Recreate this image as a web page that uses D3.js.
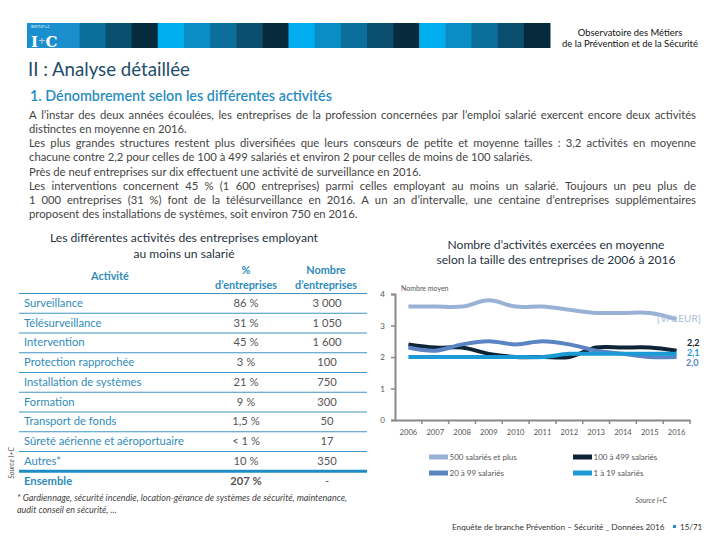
<!DOCTYPE html>
<html><head><meta charset="utf-8">
<script src="https://cdn.jsdelivr.net/npm/d3@7"></script>
<style>
body{margin:0;background:#fff;}
svg{display:block;font-family:Lato,"Open Sans",sans-serif;}
</style>
</head><body>
<svg id="c" width="720" height="540"></svg>
<script>
// ---------- DATA ----------
const years = [2006,2007,2008,2009,2010,2011,2012,2013,2014,2015,2016];
const seriesNames = ["500 salariés et plus","100 à 499 salariés","20 à 99 salariés","1 à 19 salariés"];
const s500 = [3.6,3.6,3.6,3.8,3.6,3.6,3.5,3.4,3.4,3.4,3.2];
const s100 = [2.4,2.3,2.3,2.1,2.0,2.0,2.0,2.3,2.3,2.3,2.2];
const s20  = [2.3,2.2,2.4,2.5,2.4,2.5,2.4,2.2,2.1,2.0,2.0];
const s1   = [2.0,2.0,2.0,2.0,2.0,2.0,2.1,2.1,2.1,2.1,2.1];
const endLabels = ["[VALEUR]","2,2","2,0","2,1"];
const yTicks = [0,1,2,3,4];

const activities = ["Surveillance","Télésurveillance","Intervention","Protection rapprochée","Installation de systèmes","Formation","Transport de fonds","Sûreté aérienne et aéroportuaire","Autres*"];
const pctLabels = ["86 %","31 %","45 %","3 %","21 %","9 %","1,5 %","< 1 %","10 %"];
const countLabels = ["3 000","1 050","1 600","100","750","300","50","17","350"];
const totalRow = ["Ensemble","207 %","-"];

const paragraphLines = [
 "A l’instar des deux années écoulées, les entreprises de la profession concernées par l’emploi salarié exercent encore deux activités",
 "distinctes en moyenne en 2016.",
 "Les plus grandes structures restent plus diversifiées que leurs consœurs de petite et moyenne tailles : 3,2 activités en moyenne",
 "chacune contre 2,2 pour celles de 100 à 499 salariés et environ 2 pour celles de moins de 100 salariés.",
 "Près de neuf entreprises sur dix effectuent une activité de surveillance en 2016.",
 "Les interventions concernent 45 % (1 600 entreprises) parmi celles employant au moins un salarié. Toujours un peu plus de",
 "1 000 entreprises (31 %) font de la télésurveillance en 2016. A un an d’intervalle, une centaine d’entreprises supplémentaires",
 "proposent des installations de systèmes, soit environ 750 en 2016."
];
const justifyFlags = [true,false,true,false,false,true,true,false];

// ---------- HELPERS ----------
const svg = d3.select("#c");
function fit(sel, w){
  const l = sel.node().getComputedTextLength();
  const fs = parseFloat(sel.attr("font-size"));
  sel.attr("font-size", (fs*w/l).toFixed(2));
  return fs*w/l;
}

// ---------- HEADER ----------
const barColors = ["#00aeef","#0a8cc5","#0b6e9b","#0b4f70","#062b3d"];
const segs = d3.range(20);
const segX = d3.scaleBand().domain(segs).range([27,550]);
svg.append("g").selectAll("rect").data(segs).join("rect")
  .attr("x", d=>segX(d)).attr("y",23).attr("width", segX.bandwidth()+0.5).attr("height",25)
  .attr("fill", d=>barColors[d%5]);
svg.append("rect").attr("x",27).attr("y",23).attr("width",segX.bandwidth()*2).attr("height",25).attr("fill","#1a8fcd");
const logo = svg.append("text").attr("x",31).attr("y",46.5).attr("font-family","'DejaVu Serif',serif")
  .attr("font-size",15).attr("font-weight","bold").attr("fill","#fff");
logo.append("tspan").text("I");
logo.append("tspan").attr("fill","#b9c8d4").attr("font-size",9).attr("dy",-3).text("+");
logo.append("tspan").attr("dy",3).text("C");
svg.append("text").attr("x",31).attr("y",28).attr("font-size",3).attr("fill","#fff").text("INSTITUT I+C");

const hdr1 = svg.append("text").attr("x",630).attr("y",36).attr("text-anchor","middle").attr("font-size",9).attr("fill","#111").text("Observatoire des Métiers");
const hdr2 = svg.append("text").attr("x",630).attr("y",47).attr("text-anchor","middle").attr("font-size",9).attr("fill","#111").text("de la Prévention et de la Sécurité");
const hs = fit(hdr2,136); hdr1.attr("font-size",hs);

// ---------- HEADINGS ----------
const h1 = svg.append("text").attr("x",28).attr("y",76).attr("font-size",17).attr("fill","#1d4d6b").text("II : Analyse détaillée");
fit(h1,162);
const h2 = svg.append("text").attr("x",30).attr("y",101).attr("font-size",13).attr("fill","#2a8dbf").attr("font-weight","600").text("1. Dénombrement selon les différentes activités");
fit(h2,302);

// ---------- PARAGRAPH ----------
const pg = svg.append("g").attr("fill","#444");
const probe = pg.append("text").attr("font-size",10).text(paragraphLines[3]);
const pfs = 10*504/probe.node().getComputedTextLength();
probe.remove();
const px0 = 29, px1 = 696;
paragraphLines.forEach((line,i)=>{
  const y = 118.5 + i*14.25;
  if(!justifyFlags[i]){
    pg.append("text").attr("x",px0).attr("y",y).attr("font-size",pfs).text(line);
  } else {
    const words = line.split(" ");
    const ts = words.map(w=>pg.append("text").attr("y",y).attr("font-size",pfs).text(w));
    const widths = ts.map(t=>t.node().getComputedTextLength());
    const gap = (px1-px0-d3.sum(widths))/(words.length-1);
    let x = px0;
    ts.forEach((t,k)=>{ t.attr("x",x); x += widths[k]+gap; });
  }
});

// ---------- TABLE ----------
const tg = svg.append("g");
const tt1 = tg.append("text").attr("x",184).attr("y",242).attr("text-anchor","middle").attr("font-size",11.5).attr("fill","#1f3340").text("Les différentes activités des entreprises employant");
const tfs = fit(tt1,268);
tg.append("text").attr("x",184).attr("y",258).attr("text-anchor","middle").attr("font-size",tfs).attr("fill","#1f3340").text("au moins un salarié");

const teal = "#2f8bb9";
const hcol = tg.append("g").attr("font-weight","bold").attr("fill",teal).attr("text-anchor","middle");
const de1 = hcol.append("text").attr("x",246).attr("y",289).attr("font-size",10).text("d’entreprises");
const hfs = fit(de1,62);
hcol.append("text").attr("x",110).attr("y",280).attr("font-size",hfs).text("Activité");
hcol.append("text").attr("x",246).attr("y",273.5).attr("font-size",hfs).text("%");
hcol.append("text").attr("x",326).attr("y",273.5).attr("font-size",hfs).text("Nombre");
hcol.append("text").attr("x",326).attr("y",289).attr("font-size",hfs).text("d’entreprises");

const rowsAll = activities.concat([totalRow[0]]);
const ry = d3.scaleBand().domain(rowsAll).range([293.5,491]);
const rules = activities.map(a=>ry(a));
tg.append("g").selectAll("line").data(rules).join("line")
  .attr("x1",19).attr("x2",367).attr("y1",d=>d).attr("y2",d=>d)
  .attr("stroke","#3f93c0").attr("stroke-width",1.2);
tg.append("line").attr("x1",19).attr("x2",367).attr("y1",ry(totalRow[0])).attr("y2",ry(totalRow[0]))
  .attr("stroke","#1e8cc6").attr("stroke-width",3);

const rprobe = tg.append("text").attr("font-size",10).text(activities[7]);
const rowFs = 10*160/rprobe.node().getComputedTextLength();
rprobe.remove();
const rg = tg.append("g").selectAll("g").data(activities).join("g")
  .attr("transform",d=>`translate(0,${ry(d)+ry.bandwidth()/2+3.5})`);
rg.append("text").attr("x",24).attr("font-size",rowFs).attr("fill",teal).text(d=>d);
rg.append("text").attr("x",246).attr("text-anchor","middle").attr("font-size",rowFs).attr("fill","#555").text((d,i)=>pctLabels[i]);
rg.append("text").attr("x",327).attr("text-anchor","middle").attr("font-size",rowFs).attr("fill","#555").text((d,i)=>countLabels[i]);
const ety = ry(totalRow[0])+ry.bandwidth()/2+3.5;
tg.append("text").attr("x",24).attr("y",ety).attr("font-size",rowFs).attr("font-weight","bold").attr("fill",teal).text(totalRow[0]);
tg.append("text").attr("x",246).attr("y",ety).attr("text-anchor","middle").attr("font-size",rowFs).attr("font-weight","bold").attr("fill","#555").text(totalRow[1]);
tg.append("text").attr("x",327).attr("y",ety).attr("text-anchor","middle").attr("font-size",rowFs).attr("fill","#555").text(totalRow[2]);

const fn1 = tg.append("text").attr("x",17).attr("y",500.5).attr("font-size",7.5).attr("font-style","italic").attr("fill","#444")
  .text("* Gardiennage, sécurité incendie, location-gérance de systèmes de sécurité, maintenance,");
const ffs = fit(fn1,330);
tg.append("text").attr("x",17).attr("y",512.5).attr("font-size",ffs).attr("font-style","italic").attr("fill","#444")
  .text("audit conseil en sécurité, ...");
tg.append("text").attr("transform","translate(14,463) rotate(-90)").attr("text-anchor","middle")
  .attr("font-size",7).attr("font-style","italic").attr("fill","#555").text("Source I+C");

// ---------- LINE CHART ----------
const cg = svg.append("g");
const ct1 = cg.append("text").attr("x",556).attr("y",248.5).attr("text-anchor","middle").attr("font-size",11).attr("fill","#1f3340").text("Nombre d’activités exercées en moyenne");
const cfs = fit(ct1,217);
cg.append("text").attr("x",556).attr("y",264).attr("text-anchor","middle").attr("font-size",cfs).attr("fill","#1f3340").text("selon la taille des entreprises de 2006 à 2016");

const x = d3.scaleBand().domain(years).range([395,690]);
const y = d3.scaleLinear().domain([0,4]).range([420,294]);

const yAxis = cg.append("g").attr("transform","translate(395,0)")
  .call(d3.axisLeft(y).tickValues(yTicks).tickFormat(d3.format("d")).tickSize(4).tickPadding(6));
yAxis.select(".domain").attr("stroke","#8a8a8a").attr("stroke-width",2);
yAxis.selectAll(".tick line").attr("stroke","#8a8a8a").attr("stroke-width",1.5);
yAxis.selectAll("text").attr("font-size",8).attr("fill","#555").attr("font-family","Lato,sans-serif");

const xAxis = cg.append("g").attr("transform","translate(0,420)")
  .call(d3.axisBottom(x).tickSize(0).tickPadding(10));
xAxis.select(".domain").attr("stroke","#8a8a8a").attr("stroke-width",2);
xAxis.selectAll("text").attr("font-size",7.6).attr("fill","#555").attr("font-family","Lato,sans-serif");
cg.append("g").selectAll("line").data(years.slice(1).concat(["end"])).join("line")
  .attr("x1",d=> d==="end" ? x(years[years.length-1])+x.step() : x(d))
  .attr("x2",d=> d==="end" ? x(years[years.length-1])+x.step() : x(d))
  .attr("y1",420).attr("y2",424).attr("stroke","#8a8a8a").attr("stroke-width",1.5);

cg.append("text").attr("x",401).attr("y",291).attr("font-size",7).attr("fill","#555").text("Nombre moyen");

const series = [s500,s100,s20,s1];
const colors = ["#98b1d5","#0d2336","#5b84c2","#1b9ad5"];
const line = d3.line().x((d,i)=>x(years[i])+x.bandwidth()/2).y(d=>y(d)).curve(d3.curveCatmullRom.alpha(0.5));
cg.append("g").selectAll("path").data(series).join("path")
  .attr("d",line).attr("fill","none").attr("stroke",(d,i)=>colors[i]).attr("stroke-width",4).attr("stroke-linejoin","round");

const lab = cg.append("g").attr("font-size",9);
lab.append("text").attr("x",657).attr("y",322).attr("font-size",10).attr("fill","#a9bdd9").text(endLabels[0]);
lab.append("text").attr("x",687).attr("y",346).attr("font-weight","bold").attr("fill","#0d2336").text(endLabels[1]);
lab.append("text").attr("x",687).attr("y",356).attr("font-weight","bold").attr("fill","#1b9ad5").text(endLabels[3]);
lab.append("text").attr("x",686).attr("y",366).attr("font-weight","bold").attr("fill","#5b84c2").text(endLabels[2]);

const legPos = [[429,457],[573,457],[429,473],[573,473]];
const lg = cg.append("g").selectAll("g").data(seriesNames).join("g")
  .attr("transform",(d,i)=>`translate(${legPos[i][0]},${legPos[i][1]})`);
lg.append("rect").attr("x",0).attr("y",-2.5).attr("width",19).attr("height",5).attr("fill",(d,i)=>colors[i]);
lg.append("text").attr("x",20.5).attr("y",3).attr("font-size",8).attr("fill","#555").text(d=>d);

cg.append("text").attr("x",667).attr("y",503).attr("text-anchor","end").attr("font-size",7).attr("font-style","italic").attr("fill","#555").text("Source I+C");

const ft = svg.append("text").attr("x",452).attr("y",530).attr("font-size",7.5).attr("fill","#333").text("Enquête de branche Prévention – Sécurité _ Données 2016");
fit(ft,213);
svg.append("rect").attr("x",673).attr("y",525).attr("width",3).attr("height",3).attr("fill","#1f8fc8");
svg.append("text").attr("x",680).attr("y",530).attr("font-size",8).attr("fill","#333").text("15/71");
</script>
</body></html>
